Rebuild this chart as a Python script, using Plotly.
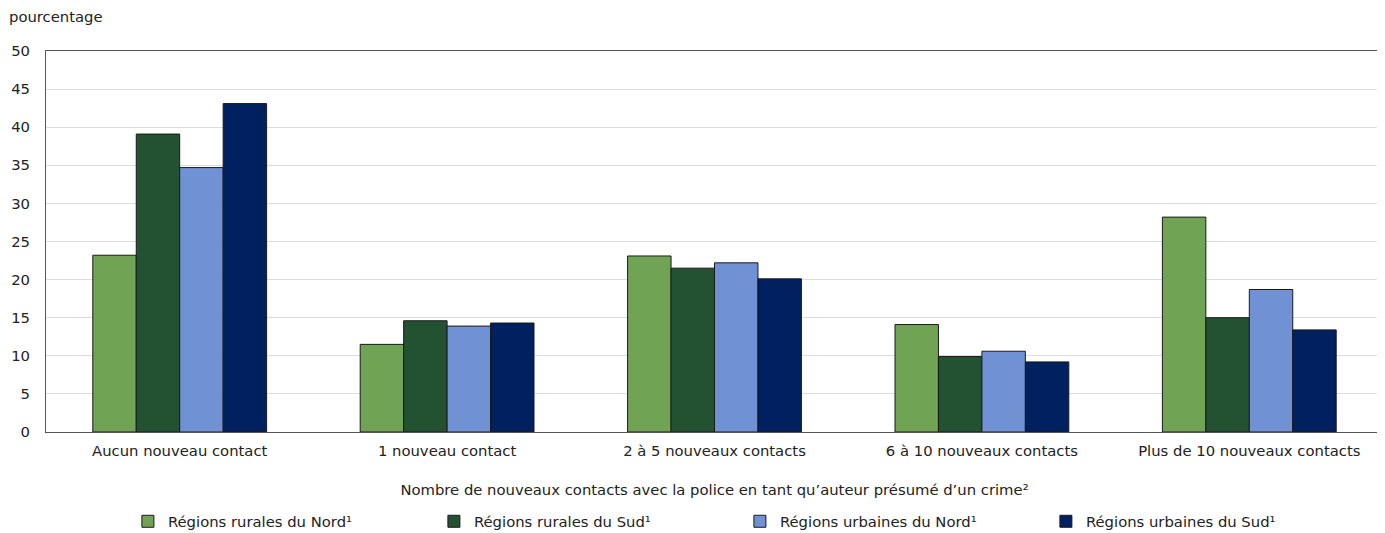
import plotly.graph_objects as go

categories = ["Aucun nouveau contact", "1 nouveau contact", "2 à 5 nouveaux contacts",
              "6 à 10 nouveaux contacts", "Plus de 10 nouveaux contacts"]
series_names = ["Régions rurales du Nord¹", "Régions rurales du Sud¹",
                "Régions urbaines du Nord¹", "Régions urbaines du Sud¹"]
rural_nord = [23.2, 11.5, 23.1, 14.1, 28.2]
rural_sud = [39.1, 14.6, 21.5, 9.9, 15.0]
urbain_nord = [34.7, 13.9, 22.2, 10.6, 18.7]
urbain_sud = [43.1, 14.3, 20.1, 9.2, 13.4]
colors = ["#70A454", "#235232", "#7092D4", "#002060"]
y_ticks = [0, 5, 10, 15, 20, 25, 30, 35, 40, 45, 50]

font = "DejaVu Sans, Verdana, sans-serif"
fs = 14.8
fig = go.Figure()
for name, vals, col in zip(series_names, [rural_nord, rural_sud, urbain_nord, urbain_sud], colors):
    fig.add_trace(go.Bar(x=categories, y=vals, name=name, marker_color=col,
                         marker_line_color="#1a1a1a", marker_line_width=1))

fig.update_layout(
    width=1377, height=525,
    margin=dict(l=38, r=2, t=43, b=101, autoexpand=False),
    plot_bgcolor="white", paper_bgcolor="white",
    barmode="group", bargap=0.35, bargroupgap=0,
    font=dict(family=font, size=fs, color="#222222"),
    showlegend=True,
    legend=dict(orientation="h", x=0.519, xanchor="center", y=-0.192, yanchor="top",
                entrywidth=261, entrywidthmode="pixels", font=dict(size=fs),
                itemwidth=30, tracegroupgap=0),
    annotations=[dict(text="pourcentage", xref="paper", yref="paper", x=0, y=1,
                      xanchor="left", yanchor="bottom", xshift=-39, yshift=24,
                      showarrow=False, font=dict(size=fs))],
)
fig.update_xaxes(
    title=dict(text="Nombre de nouveaux contacts avec la police en tant qu’auteur présumé d’un crime²",
               font=dict(size=fs), standoff=26),
    showline=True, linecolor="#555555", linewidth=1, mirror=True,
    ticks="outside", ticklen=5, tickcolor="rgba(0,0,0,0)",
)
fig.update_yaxes(
    range=[0, 50], tickvals=y_ticks, showgrid=True, gridcolor="#dcdcdc", gridwidth=1,
    showline=True, linecolor="#555555", linewidth=1, mirror=True,
    ticks="outside", ticklen=12, tickcolor="rgba(0,0,0,0)", zeroline=False,
)
fig.write_html("out.html")
